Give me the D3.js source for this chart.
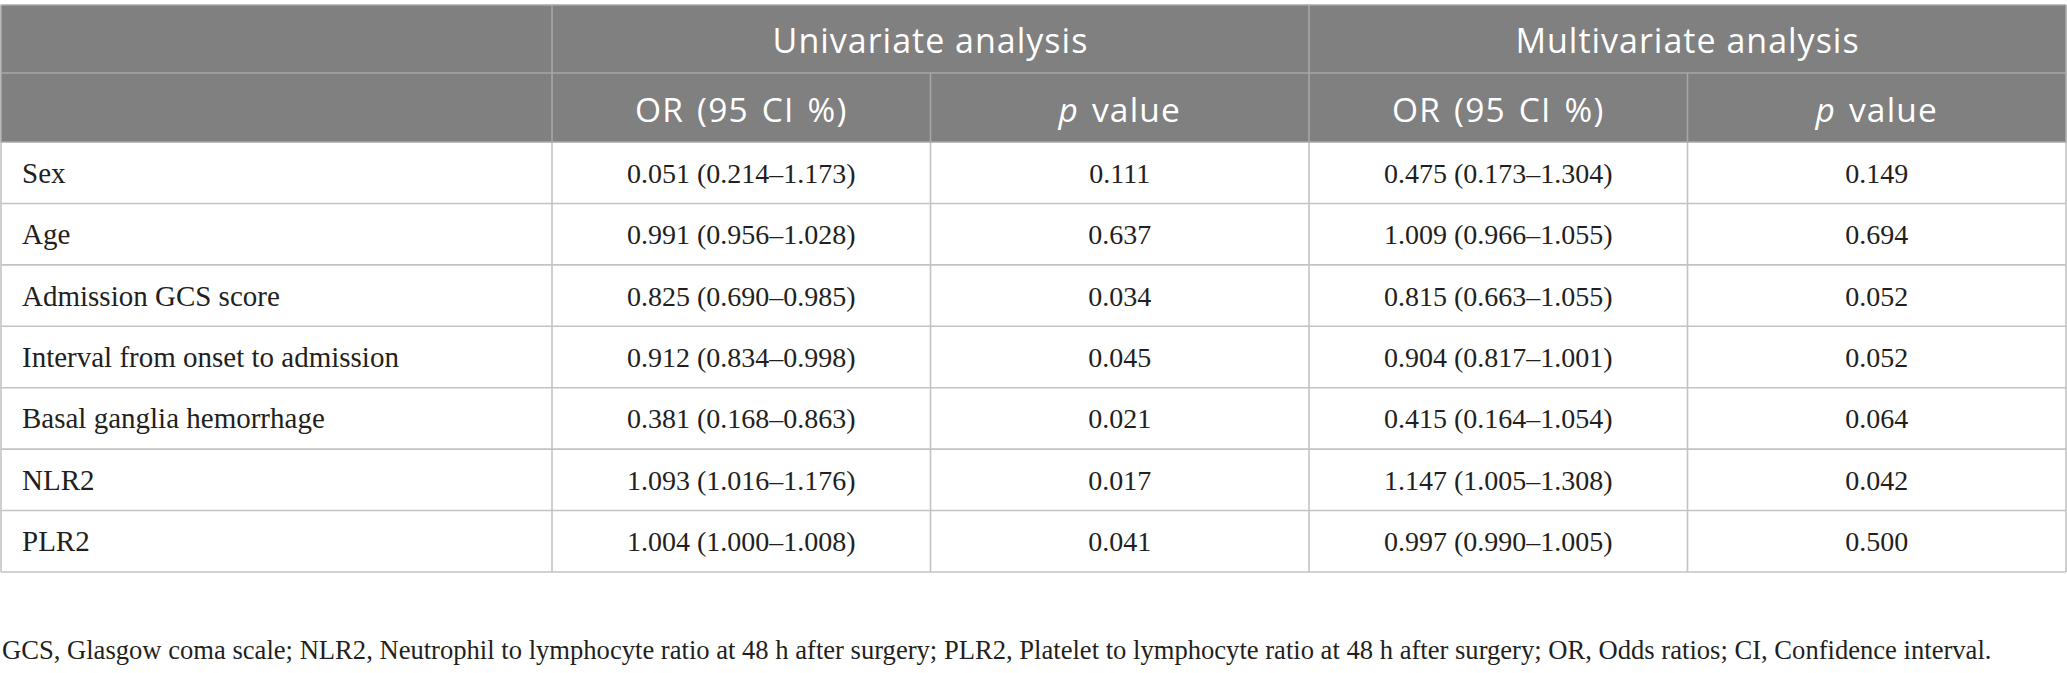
<!DOCTYPE html>
<html>
<head>
<meta charset="utf-8">
<script src="https://cdn.jsdelivr.net/npm/d3@7"></script>
<style>
  html, body { margin: 0; padding: 0; background: #fff; }
  svg { display: block; }
</style>
</head>
<body>
<svg id="chart" width="2067" height="673"></svg>
<script>
// table content
const rowLabels = ["Sex", "Age", "Admission GCS score", "Interval from onset to admission",
                   "Basal ganglia hemorrhage", "NLR2", "PLR2"];
const uniOR = ["0.051 (0.214–1.173)", "0.991 (0.956–1.028)", "0.825 (0.690–0.985)", "0.912 (0.834–0.998)",
               "0.381 (0.168–0.863)", "1.093 (1.016–1.176)", "1.004 (1.000–1.008)"];
const uniP = ["0.111", "0.637", "0.034", "0.045", "0.021", "0.017", "0.041"];
const multiOR = ["0.475 (0.173–1.304)", "1.009 (0.966–1.055)", "0.815 (0.663–1.055)", "0.904 (0.817–1.001)",
                 "0.415 (0.164–1.054)", "1.147 (1.005–1.308)", "0.997 (0.990–1.005)"];
const multiP = ["0.149", "0.694", "0.052", "0.052", "0.064", "0.042", "0.500"];
const groupHeaders = ["Univariate analysis", "Multivariate analysis"];
const subHeaders = ["OR (95 CI %)", "p value", "OR (95 CI %)", "p value"];
const footnote = "GCS, Glasgow coma scale; NLR2, Neutrophil to lymphocyte ratio at 48 h after surgery; PLR2, Platelet to lymphocyte ratio at 48 h after surgery; OR, Odds ratios; CI, Confidence interval.";

const columns = [uniOR, uniP, multiOR, multiP];

const svg = d3.select("#chart");

// layout
const left = 1, right = 2066;
const labelColRight = 552;
const headTop = 5, headMid = 73, headBottom = 142, tableBottom = 572;

const serif = "'Liberation Serif', 'Times New Roman', serif";
const sans = "'Open Sans', 'Noto Sans', sans-serif";

const xCol = d3.scaleBand()
               .domain(d3.range(columns.length))
               .range([labelColRight, right]);

const xGroup = d3.scaleBand()
                 .domain(d3.range(groupHeaders.length))
                 .range([labelColRight, right]);

const yRow = d3.scaleBand()
               .domain(rowLabels)
               .range([headBottom, tableBottom]);

// header background
svg.append("rect")
   .attr("x", left)
   .attr("y", headTop)
   .attr("width", right - left)
   .attr("height", headBottom - headTop)
   .attr("fill", "#7f807f");

const bodyLine = "#c3c3c3";
const headLine = "#a6a7a6";

// grid lines - body
svg.append("g")
   .selectAll("line")
   .data(rowLabels)
   .enter()
   .append("line")
   .attr("x1", left)
   .attr("x2", right)
   .attr("y1", d => yRow(d) + yRow.bandwidth())
   .attr("y2", d => yRow(d) + yRow.bandwidth())
   .attr("stroke", bodyLine)
   .attr("stroke-width", 1.6);

const vEdges = [left, labelColRight].concat(d3.range(columns.length).map(i => xCol(i) + xCol.bandwidth()));

svg.append("g")
   .selectAll("line")
   .data(vEdges)
   .enter()
   .append("line")
   .attr("x1", d => d)
   .attr("x2", d => d)
   .attr("y1", headBottom)
   .attr("y2", tableBottom)
   .attr("stroke", bodyLine)
   .attr("stroke-width", 1.6);

// grid lines - header
const headH = [headTop, headMid, headBottom];
svg.append("g")
   .selectAll("line")
   .data(headH)
   .enter()
   .append("line")
   .attr("x1", left)
   .attr("x2", right)
   .attr("y1", d => d)
   .attr("y2", d => d)
   .attr("stroke", headLine)
   .attr("stroke-width", 1.6);

// top header row only splits at the groups
const groupEdges = [left, labelColRight].concat(d3.range(groupHeaders.length).map(i => xGroup(i) + xGroup.bandwidth()));
svg.append("g")
   .selectAll("line")
   .data(groupEdges)
   .enter()
   .append("line")
   .attr("x1", d => d)
   .attr("x2", d => d)
   .attr("y1", headTop)
   .attr("y2", headMid)
   .attr("stroke", headLine)
   .attr("stroke-width", 1.6);

svg.append("g")
   .selectAll("line")
   .data(vEdges)
   .enter()
   .append("line")
   .attr("x1", d => d)
   .attr("x2", d => d)
   .attr("y1", headMid)
   .attr("y2", headBottom)
   .attr("stroke", headLine)
   .attr("stroke-width", 1.6);

// group headers
svg.append("g")
   .selectAll("text")
   .data(groupHeaders)
   .enter()
   .append("text")
   .attr("x", (d, i) => xGroup(i) + xGroup.bandwidth() / 2)
   .attr("y", 53)
   .attr("text-anchor", "middle")
   .attr("fill", "#ffffff")
   .style("font-family", sans)
   .style("font-size", "34px")
   .style("letter-spacing", "1px")
   .text(d => d);

// sub headers (p is italic)
const sub = svg.append("g")
               .selectAll("text")
               .data(subHeaders)
               .enter()
               .append("text")
               .attr("x", (d, i) => xCol(i) + xCol.bandwidth() / 2)
               .attr("y", 122)
               .attr("text-anchor", "middle")
               .attr("fill", "#ffffff")
               .style("font-family", sans)
               .style("font-size", "33.5px")
               .style("letter-spacing", "1.2px")
               .style("word-spacing", "3px");

sub.each(function(d) {
    const t = d3.select(this);
    if (d.startsWith("p ")) {
        t.append("tspan").style("font-style", "italic").text("p");
        t.append("tspan").text(d.slice(1));
    } else {
        t.text(d);
    }
});

// row labels
svg.append("g")
   .selectAll("text")
   .data(rowLabels)
   .enter()
   .append("text")
   .attr("x", 22)
   .attr("y", d => yRow(d) + yRow.bandwidth() / 2 + 10)
   .attr("fill", "#231f20")
   .style("font-family", serif)
   .style("font-size", "29px")
   .text(d => d);

// values
columns.forEach((col, ci) => {
    svg.append("g")
       .selectAll("text")
       .data(col)
       .enter()
       .append("text")
       .attr("x", xCol(ci) + xCol.bandwidth() / 2)
       .attr("y", (d, i) => yRow(rowLabels[i]) + yRow.bandwidth() / 2 + 10)
       .attr("text-anchor", "middle")
       .attr("fill", "#231f20")
       .style("font-family", serif)
       .style("font-size", "28px")
       .text(d => d);
});

// footnote
svg.append("text")
   .attr("x", 2)
   .attr("y", 659)
   .attr("fill", "#231f20")
   .style("font-family", serif)
   .style("font-size", "26.6px")
   .text(footnote);
</script>
</body>
</html>
